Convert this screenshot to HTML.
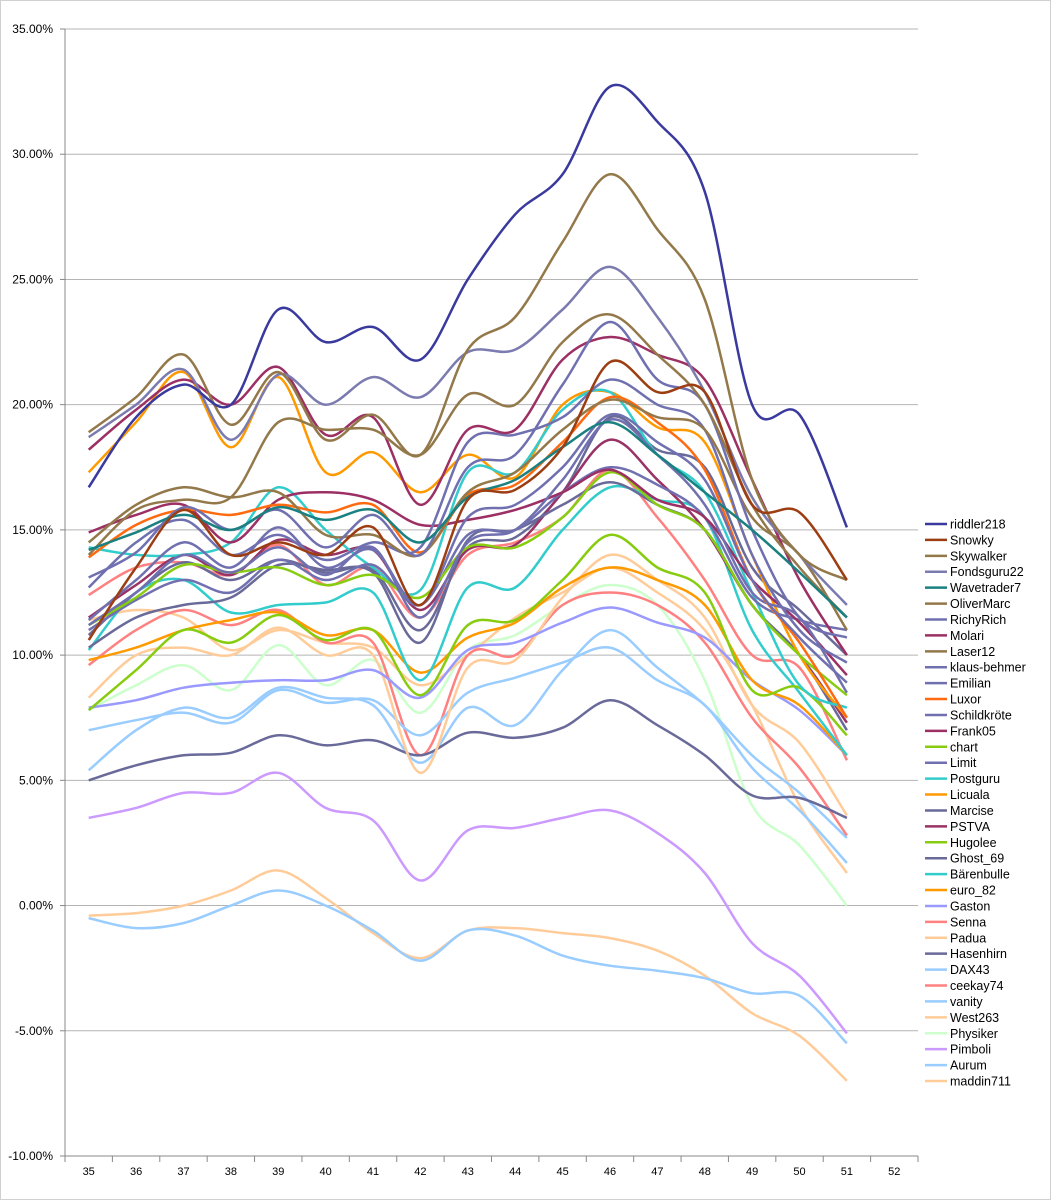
<!DOCTYPE html>
<html><head><meta charset="utf-8">
<style>
html,body{margin:0;padding:0;background:#fff;}
svg{display:block;font-family:"Liberation Sans",sans-serif;}
</style></head>
<body>
<svg id="chart" width="1051" height="1200" viewBox="0 0 1051 1200">
<rect x="0.5" y="0.5" width="1050" height="1199" fill="#fff" stroke="#d0d0d0"/>
<g id="grid"></g>
<g id="axes"></g>
<g id="series"></g>
<g id="legend"></g>
</svg>
<script>
const categories = [35,36,37,38,39,40,41,42,43,44,45,46,47,48,49,50,51,52];
const yTicks = [-10,-5,0,5,10,15,20,25,30,35];
const seriesNames = ["riddler218","Snowky","Skywalker","Fondsguru22","Wavetrader7","OliverMarc","RichyRich","Molari","Laser12","klaus-behmer","Emilian","Luxor","Schildkröte","Frank05","chart","Limit","Postguru","Licuala","Marcise","PSTVA","Hugolee","Ghost_69","Bärenbulle","euro_82","Gaston","Senna","Padua","Hasenhirn","DAX43","ceekay74","vanity","West263","Physiker","Pimboli","Aurum","maddin711"];
const seriesColors = ["#3a3a9e","#9c3d12","#93784a","#7b7bb0","#1a8080","#93784a","#7070b0","#9c3064","#93784a","#7070b0","#7070b0","#ff6a10","#7070b0","#9c3064","#88cc10","#7070b0","#33cccc","#ff9900","#6a6a9a","#993366","#88cc10","#6a6a9a","#33cccc","#ff9900","#9999ff","#ff8080","#ffcc99","#6a6a9a","#99ccff","#ff8080","#99ccff","#ffcc99","#ccffcc","#cc99ff","#99ccff","#ffcc99"];
const riddler218 = [16.7,19.5,20.8,20.0,23.8,22.5,23.1,21.8,25.0,27.6,29.2,32.7,31.3,28.5,20.0,19.6,15.1];
const Snowky = [10.6,13.5,15.8,14.0,14.5,14.0,15.1,12.0,16.2,16.6,18.3,21.7,20.5,20.5,16.0,15.7,13.0];
const Skywalker = [18.9,20.3,22.0,19.2,21.3,18.6,19.6,18.0,22.2,23.5,26.5,29.2,27.0,24.2,17.0,14.0,13.0];
const Fondsguru22 = [18.7,20.0,21.4,18.6,21.2,20.0,21.1,20.3,22.1,22.2,23.8,25.5,23.5,20.5,16.3,14.0,12.0];
const Wavetrader7 = [14.2,14.9,15.6,15.0,15.9,15.4,15.8,14.5,16.3,17.0,18.3,19.3,18.0,16.5,15.0,13.3,11.5];
const OliverMarc = [14.0,15.8,16.2,16.3,19.3,19.0,19.0,18.0,20.4,20.0,22.5,23.6,22.0,20.0,16.0,13.5,11.5];
const RichyRich = [13.1,14.1,15.9,15.0,15.8,14.3,15.6,14.0,17.5,18.0,20.8,23.3,21.0,20.0,15.0,11.5,10.7];
const Molari = [18.2,19.8,21.0,20.0,21.5,18.8,19.5,16.0,19.0,19.0,21.8,22.7,22.0,21.0,17.0,13.0,10.0];
const Laser12 = [14.5,16.0,16.7,16.3,16.5,14.8,14.8,14.0,16.5,17.3,19.0,20.2,19.5,19.0,15.5,14.0,11.0];
const klausBehmer = [12.7,14.5,15.4,14.0,14.8,13.8,14.5,14.3,18.5,18.8,19.5,21.0,20.0,19.0,14.0,11.0,9.7];
const Emilian = [11.4,13.0,14.5,13.5,15.1,13.5,14.2,12.0,15.5,16.0,17.5,19.6,18.5,17.0,13.0,10.7,8.9];
const Luxor = [13.9,15.2,15.8,15.6,16.0,15.7,16.0,14.1,16.4,16.8,18.5,20.3,19.3,17.4,13.0,10.5,7.5];
const Schildkrote = [11.2,12.5,14.0,13.3,14.3,13.2,14.3,11.5,14.5,15.0,17.0,19.4,18.0,16.0,12.5,11.5,8.5];
const Frank05 = [14.9,15.6,16.0,14.5,16.2,16.5,16.2,15.2,15.4,15.8,16.5,17.4,16.2,15.5,13.0,11.3,9.2];
const chartS = [11.2,12.3,13.6,13.3,13.5,12.8,13.2,12.3,14.3,14.3,15.5,17.3,16.0,15.0,12.0,10.0,8.4];
const Limit = [11.0,12.2,13.0,12.5,13.8,13.0,13.6,12.0,14.8,15.0,16.5,17.5,16.8,15.5,12.3,11.4,11.0];
const Postguru = [14.3,14.0,14.0,14.5,16.7,15.0,13.5,12.6,17.3,17.3,19.8,20.5,18.0,16.5,12.5,8.8,7.9];
const Licuala = [17.3,19.3,21.3,18.3,21.1,17.3,18.1,16.5,18.0,17.1,20.0,20.5,19.1,18.5,14.0,10.0,7.5];
const Marcise = [10.3,11.5,12.0,12.3,13.6,13.4,13.3,10.5,14.6,15.0,16.0,16.9,16.0,15.0,12.0,10.0,7.0];
const PSTVA = [11.5,12.8,14.0,13.2,14.6,14.0,14.2,11.8,14.2,14.4,16.5,18.6,17.0,15.0,12.0,10.0,7.3];
const Hugolee = [7.8,9.4,11.0,10.5,11.6,10.6,11.0,8.4,11.2,11.4,13.0,14.8,13.5,12.5,8.6,8.7,6.8];
const Ghost69 = [10.8,12.5,13.7,13.0,13.8,13.3,13.4,11.0,14.3,14.7,16.5,19.5,18.2,17.5,13.5,11.8,10.0];
const Barenbulle = [10.2,12.5,13.0,11.7,12.0,12.1,12.5,9.0,12.7,12.7,15.0,16.7,16.2,15.5,11.0,8.5,6.0];
const euro82 = [9.8,10.3,11.0,11.4,11.7,10.8,11.0,9.3,10.7,11.3,12.7,13.5,13.0,12.0,9.0,8.0,6.0];
const Gaston = [7.9,8.2,8.7,8.9,9.0,9.0,9.4,8.3,10.2,10.5,11.3,11.9,11.3,10.7,9.0,7.8,6.0];
const Senna = [12.4,13.5,13.7,13.2,14.4,12.8,13.5,11.5,14.0,14.5,15.5,17.4,15.5,13.0,10.0,9.5,5.8];
const Padua = [8.3,10.0,10.3,10.0,11.1,10.0,10.0,5.3,9.5,9.8,12.3,14.0,13.0,11.5,8.0,6.5,3.6];
const Hasenhirn = [5.0,5.6,6.0,6.1,6.8,6.4,6.6,6.0,6.9,6.7,7.1,8.2,7.2,6.0,4.4,4.3,3.5];
const DAX43 = [7.0,7.4,7.7,7.3,8.6,8.1,8.2,6.8,8.5,9.1,9.7,10.3,9.0,8.0,5.5,3.8,1.7];
const ceekay74 = [9.6,11.0,11.8,11.2,11.8,10.5,10.5,6.0,10.0,10.0,12.0,12.5,12.0,10.5,7.5,5.5,2.8];
const vanity = [5.4,7.0,7.9,7.5,8.7,8.3,8.0,5.7,7.9,7.2,9.4,11.0,9.5,8.0,6.0,4.5,2.7];
const West263 = [11.4,11.8,11.5,10.2,11.0,10.5,10.3,8.8,10.0,11.5,12.5,13.5,12.5,11.0,8.0,4.0,1.3];
const Physiker = [7.8,8.8,9.6,8.6,10.4,8.8,9.8,7.7,10.2,10.8,12.0,12.8,12.0,9.0,4.0,2.4,0.0];
const Pimboli = [3.5,3.9,4.5,4.5,5.3,3.9,3.4,1.0,3.0,3.1,3.5,3.8,2.9,1.3,-1.5,-2.8,-5.1];
const Aurum = [-0.5,-0.9,-0.7,0.0,0.6,0.0,-1.0,-2.2,-1.0,-1.2,-2.0,-2.4,-2.6,-2.9,-3.5,-3.6,-5.5];
const maddin711 = [-0.4,-0.3,0.0,0.6,1.4,0.3,-1.1,-2.1,-1.0,-0.9,-1.1,-1.3,-1.8,-2.8,-4.3,-5.2,-7.0];
const seriesValues = [riddler218,Snowky,Skywalker,Fondsguru22,Wavetrader7,OliverMarc,RichyRich,Molari,Laser12,klausBehmer,Emilian,Luxor,Schildkrote,Frank05,chartS,Limit,Postguru,Licuala,Marcise,PSTVA,Hugolee,Ghost69,Barenbulle,euro82,Gaston,Senna,Padua,Hasenhirn,DAX43,ceekay74,vanity,West263,Physiker,Pimboli,Aurum,maddin711];

const NS="http://www.w3.org/2000/svg";
const L=65,R=918,T=29,B=1156;
const yMin=-10,yMax=35;
const band=(R-L)/categories.length;
function xPos(i){return L+band*(i+0.5);}
function yPos(v){return B-(v-yMin)/(yMax-yMin)*(B-T);}
function mk(tag,attrs,parent){const e=document.createElementNS(NS,tag);for(const k in attrs)e.setAttribute(k,attrs[k]);parent.appendChild(e);return e;}
const grid=document.getElementById('grid'),axes=document.getElementById('axes'),ser=document.getElementById('series'),leg=document.getElementById('legend');

yTicks.forEach(t=>{
  const y=yPos(t);
  if(t!==yMin){const g=mk('line',{x1:L,x2:R,y1:y,y2:y,stroke:'#b4b4b4','stroke-width':1},grid);
  
  }
  const tx=mk('text',{x:L-12,y:y+4,'text-anchor':'end','font-size':12,fill:'#000'},axes);
  tx.textContent=t.toFixed(2)+'%';
  
  
  const tk=mk('line',{x1:L-5,x2:L,y1:y,y2:y,stroke:'#888'},axes);
  
  
});
const ya=mk('line',{x1:L,x2:L,y1:T,y2:B,stroke:'#888'},axes);


const xa=mk('line',{x1:L,x2:R,y1:B,y2:B,stroke:'#888'},axes);


categories.forEach((c,i)=>{
  const tk=mk('line',{x1:L+band*i,x2:L+band*i,y1:B,y2:B+6,stroke:'#888'},axes);
  
  
  const tx=mk('text',{x:xPos(i),y:B+19,'text-anchor':'middle','font-size':11,fill:'#000'},axes);
  tx.textContent=c;
  
  
});
const tkE=mk('line',{x1:R,x2:R,y1:B,y2:B+6,stroke:'#888'},axes);



function smooth(pts){
  let d='M'+pts[0][0].toFixed(1)+','+pts[0][1].toFixed(1);
  const k=1/6;
  for(let i=0;i<pts.length-1;i++){
    const p0=pts[Math.max(0,i-1)],p1=pts[i],p2=pts[i+1],p3=pts[Math.min(pts.length-1,i+2)];
    const c1=[p1[0]+(p2[0]-p0[0])*k,p1[1]+(p2[1]-p0[1])*k];
    const c2=[p2[0]-(p3[0]-p1[0])*k,p2[1]-(p3[1]-p1[1])*k];
    d+=' C'+c1[0].toFixed(1)+','+c1[1].toFixed(1)+' '+c2[0].toFixed(1)+','+c2[1].toFixed(1)+' '+p2[0].toFixed(1)+','+p2[1].toFixed(1);
  }
  return d;
}
for(let s=seriesValues.length-1;s>=0;s--){
  const pts=seriesValues[s].map((v,i)=>[xPos(i),yPos(v)]);
  const p=mk('path',{d:smooth(pts),fill:'none',stroke:seriesColors[s],'stroke-width':2.5,'stroke-linejoin':'round'},ser);
  
  
}
const ly0=524,lstep=(1081-524)/(seriesNames.length-1);
seriesNames.forEach((n,i)=>{
  const y=ly0+lstep*i;
  const g=mk('g',{},leg);
  
  
  mk('line',{x1:925,x2:947,y1:y,y2:y,stroke:seriesColors[i],'stroke-width':2.5},g);
  const t=mk('text',{x:950,y:y+4.5,'font-size':12.5,fill:'#000'},g);
  t.textContent=n;
});
</script>
</body></html>
